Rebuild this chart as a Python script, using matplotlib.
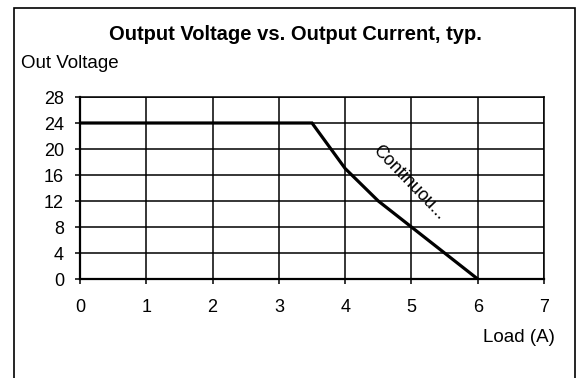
import matplotlib
matplotlib.use("Agg")
import matplotlib.pyplot as plt
from matplotlib.patches import Rectangle

plt.rcParams['font.family'] = ['Liberation Sans', 'DejaVu Sans']

# Output characteristic: load current (A) vs. output voltage (V)
load_a = [0, 3.5, 4.0, 4.5, 5.0, 6.0]
volt_v = [24, 24, 17, 12, 8, 0]
x_ticks = [0, 1, 2, 3, 4, 5, 6, 7]
y_ticks = [0, 4, 8, 12, 16, 20, 24, 28]
series_label = "Continuou..."

fig = plt.figure(figsize=(5.84, 3.78), dpi=100)
fig.patch.set_facecolor('white')

# Chart frame (open at the bottom edge)
fig.patches.append(Rectangle((14 / 584, -0.05), (575 - 14) / 584, 1 - 8 / 378 + 0.05,
                             transform=fig.transFigure, fill=False,
                             edgecolor='black', linewidth=1.2))

ax = fig.add_axes([80 / 584, 1 - 279 / 378, (544 - 80) / 584, (279 - 97) / 378])
ax.set_xlim(0, 7)
ax.set_ylim(0, 28)
ax.set_xticks(x_ticks)
ax.set_yticks(y_ticks)
ax.grid(True, color='black', linewidth=1.1)
ax.set_axisbelow(True)
for side in ('top', 'right'):
    ax.spines[side].set_linewidth(1.1)
for side in ('left', 'bottom'):
    ax.spines[side].set_linewidth(1.6)
ax.tick_params(axis='both', direction='out', length=3.5, width=1.1,
               labelsize=13, colors='black')
ax.tick_params(axis='y', pad=8)
ax.tick_params(axis='x', pad=11)

ax.plot(load_a, volt_v, color='black', linewidth=2.3, solid_joinstyle='miter')

ax.text(4.96, 14.9, series_label, rotation=-46, fontsize=13,
        ha='center', va='center', rotation_mode='anchor')

fig.text(295 / 584, 1 - 34 / 378, "Output Voltage vs. Output Current, typ.",
         ha='center', va='center', fontsize=14.5, fontweight='bold')
fig.text(21 / 584, 1 - 63 / 378, "Out Voltage", ha='left', va='center', fontsize=13.5)
fig.text(555 / 584, 1 - 337 / 378, "Load (A)", ha='right', va='center', fontsize=13.5)

fig.savefig("out.png", dpi=100, facecolor='white')
